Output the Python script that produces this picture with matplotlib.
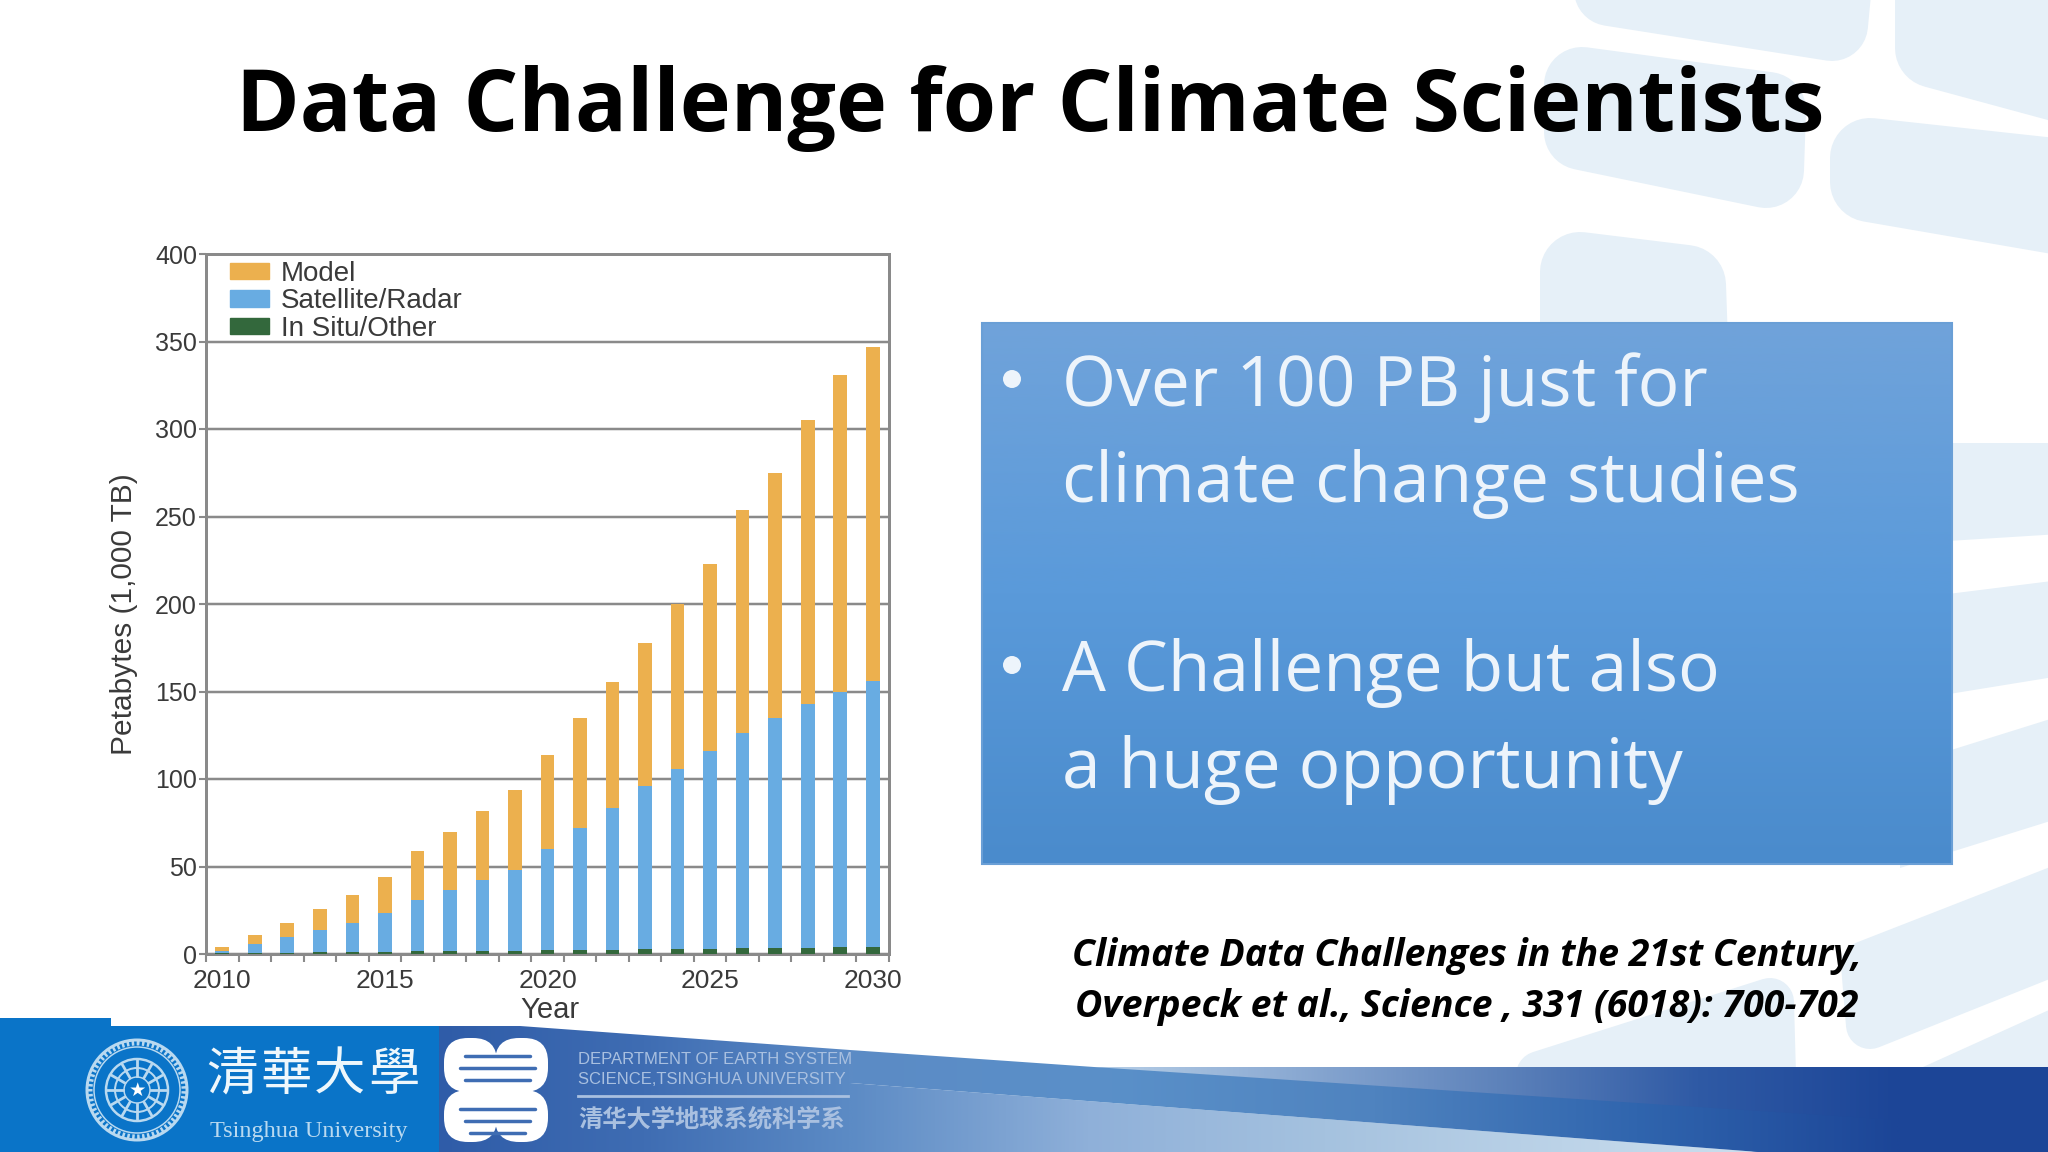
#!/usr/bin/python
# Filename: plot.py
import numpy as np
import matplotlib
matplotlib.use("Agg")
import matplotlib.pyplot as plt
from matplotlib.patches import Polygon, Rectangle, Circle, FancyBboxPatch, Patch
from matplotlib.colors import LinearSegmentedColormap

W, H = 2048, 1152

years = list(range(2010, 2031))
year_labels = ["2010", "2015", "2020", "2025", "2030"]
# top of each colour in the stack
insitu_top = [0.3, 0.5, 0.8, 1.0, 1.2, 1.4, 1.6, 1.8, 2.0, 2.0, 2.2, 2.4, 2.5, 2.7, 2.8, 3.0, 3.2, 3.3, 3.5, 3.8, 4.2]
satellite_top = [2, 5.5, 10, 14, 18, 23.5, 31, 36.5, 42.5, 48, 60, 72, 83.5, 96, 106, 116, 126.5, 135, 143, 150, 156]
model_top = [4, 11, 18, 26, 34, 44, 59, 70, 81.5, 94, 113.5, 135, 155.5, 178, 200, 223, 254, 275, 305, 331, 347]

LIGHT = "#e6f0f8"
WHITE_BLUE = "#b9d9f0"


def pt(px):
    return px * 0.72


def gradient(ax, x0, x1, y0, y1, stops, poly=None, vertical=False, z=1):
    # gradient rectangle, clipped to a polygon when one is given
    cmap = LinearSegmentedColormap.from_list("g", stops)
    g = np.linspace(0, 1, 512)
    g = g[:, None] if vertical else g[None, :]
    im = ax.imshow(g, cmap=cmap, extent=(x0, x1, y1, y0), aspect="auto", zorder=z, vmin=0, vmax=1)
    if poly is not None:
        p = Polygon(poly, closed=True, transform=ax.transData, fc="none", ec="none")
        ax.add_patch(p)
        im.set_clip_path(p)
    return im


def stroke(ax, pts, r=24):
    # light background stroke, corners rounded by a fat round edge
    ax.add_patch(Polygon(pts, closed=True, fc=LIGHT, ec=LIGHT, lw=pt(2 * r), joinstyle="round", zorder=0.5))


fig = plt.figure(figsize=(W / 100, H / 100), dpi=100, facecolor="white")
bg = fig.add_axes([0, 0, 1, 1])
bg.set_xlim(0, W)
bg.set_ylim(H, 0)
bg.axis("off")

# background strokes
stroke(bg, [(1625, -60), (1840, -60), (1832, 25), (1610, -10)], 36)
stroke(bg, [(1582, 85), (1768, 110), (1766, 170), (1582, 132)], 38)
stroke(bg, [(1580, 272), (1686, 285), (1690, 400), (1580, 400)], 40)
stroke(bg, [(1870, 158), (2090, 182), (2090, 220), (1870, 182)], 40)
stroke(bg, [(1935, -30), (2090, -5), (2090, 90), (1935, 48)], 40)
stroke(bg, [(1900, 443), (2060, 443), (2060, 534), (1900, 544)], 0)
stroke(bg, [(1900, 600), (2060, 580), (2060, 676), (1900, 702)], 0)
stroke(bg, [(1900, 766), (2060, 716), (2060, 818), (1900, 868)], 0)
stroke(bg, [(1865, 965), (2070, 885), (2070, 945), (1870, 1025)], 24)
stroke(bg, [(1540, 1075), (1770, 1002), (1772, 1075), (1540, 1075)], 24)
stroke(bg, [(1923, 1067), (2060, 1005), (2060, 1075), (1923, 1075)], 0)

# footer
bg.add_patch(Rectangle((0, 1018), 111, 12, fc="#0a74c8", ec="none", zorder=1))
bg.add_patch(Rectangle((0, 1026), 439, 126, fc="#0a74c8", ec="none", zorder=1))
gradient(bg, 439, 850, 1026, 1152, ["#2f5ca8", "#3f6db3", "#5c8bc5"],
         [(439, 1026), (520, 1026), (850, 1050), (850, 1152), (439, 1152)])
gradient(bg, 850, 1800, 1067, 1152, ["#5c8bc5", "#8fb0d9", "#a5c2df", "#bcd3e8", "#cfe0ee"],
         [(850, 1083), (1759, 1152), (850, 1152)], z=1.1)
gradient(bg, 1094, 1900, 1067, 1152, ["#b7cfe7", "#8aa9d2", "#5e83bb", "#2f5aa5", "#1c4597"],
         [(1094, 1067), (1900, 1067), (1900, 1152), (1759, 1152)], z=1.2)
bg.add_patch(Rectangle((1899, 1067), 149, 85, fc="#1c4597", ec="none", zorder=1.2))
gradient(bg, 850, 1900, 1050, 1152, ["#5c8bc5", "#5a90c9", "#4f83bf", "#3065ae", "#1c4597"],
         [(850, 1050), (1094, 1067), (1713, 1108), (1900, 1120), (1900, 1152), (1759, 1152), (850, 1083)], z=1.3)

# seal
for r, lw in [(50, 3), (43, 1.5), (31, 2.5), (22, 2), (13, 1.5)]:
    bg.add_patch(Circle((137, 1090), r, fc="none", ec=WHITE_BLUE, lw=pt(lw), zorder=2))
for a in np.arange(0, 360, 30):
    c, s = np.cos(np.radians(a)), np.sin(np.radians(a))
    bg.plot([137 + 14 * c, 137 + 30 * c], [1090 + 14 * s, 1090 + 30 * s], color=WHITE_BLUE, lw=2, zorder=2)
bg.text(137, 1090, "★", color="white", fontsize=14, ha="center", va="center", zorder=3)
bg.add_patch(Circle((137, 1090), 47, fc="none", ec=WHITE_BLUE, lw=pt(5), ls=(0, (0.5, 0.5)), zorder=2))

for x, ch in zip([232, 286, 340, 394], "清華大學"):
    bg.text(x, 1075, ch, color="#eef7fc", fontsize=37, family="Noto Sans CJK TC", weight="medium",
            ha="center", va="center", zorder=3)
bg.text(309, 1131, "Tsinghua University", color=WHITE_BLUE, fontsize=17.5, family="Liberation Serif",
        ha="center", va="center", zorder=3)

# department mark
for (x, y, w, h) in [(454, 1048, 33, 34), (505, 1048, 33, 34), (454, 1100, 33, 32), (505, 1100, 33, 32)]:
    bg.add_patch(FancyBboxPatch((x, y), w, h, boxstyle="round,pad=10,rounding_size=24", fc="white", ec="none", zorder=2))
bg.add_patch(Rectangle((470, 1074), 52, 34, fc="white", ec="none", zorder=2))
for y, x0, x1 in [(1056, 465, 530), (1068, 460, 535), (1080, 465, 530), (1109, 460, 535), (1121, 465, 530), (1133, 470, 525)]:
    bg.plot([x0, x1], [y, y], color="#3f6db3", lw=2.5, zorder=3, solid_capstyle="round")

DEPT = "#a9c0e0"
bg.text(578, 1060, "DEPARTMENT OF EARTH SYSTEM", color=DEPT, fontsize=12, family="Liberation Sans", va="center", zorder=3)
bg.text(578, 1079, "SCIENCE,TSINGHUA UNIVERSITY", color=DEPT, fontsize=12, family="Liberation Sans", va="center", zorder=3)
bg.plot([578, 848], [1096, 1096], color=DEPT, lw=2, zorder=3)
bg.text(578, 1119, "清华大学地球系统科学系", color=DEPT, fontsize=17.5, family="Noto Sans CJK SC", weight="bold", va="center", zorder=3)

# title
bg.text(1030, 131, "Data Challenge for Climate Scientists", color="black", fontsize=62, weight="bold",
        family="Open Sans", ha="center", va="baseline", zorder=3)

# text box
gradient(bg, 982, 1952, 323, 864, ["#70a3da", "#5a9ada", "#4a8bcc"], vertical=True, z=2)
bg.add_patch(Rectangle((982, 323), 970, 541, fc="none", ec="#6a9fd6", lw=1.5, zorder=2.5))
BODY = "#edf4fb"
for (y, s) in [(406, "Over 100 PB just for"), (502, "climate change studies"), (691, "A Challenge but also"), (788, "a huge opportunity")]:
    bg.text(1062, y, s, color=BODY, fontsize=50, family="Open Sans", va="baseline", zorder=3)
for y in [379, 665]:
    bg.add_patch(Circle((1012, y), 9, fc=BODY, ec="none", zorder=3))

# citation
bg.text(1467, 966, "Climate Data Challenges in the 21st Century,", color="black", fontsize=27, weight="bold", style="italic",
        family="Open Sans", ha="center", va="baseline", zorder=3)
bg.text(1467, 1017, "Overpeck et al., Science , 331 (6018): 700-702", color="black", fontsize=27, weight="bold", style="italic",
        family="Open Sans", ha="center", va="baseline", zorder=3)

# chart
ax = fig.add_axes([206 / W, 1 - 954 / H, (889 - 206) / W, (954 - 254) / H])
ax.patch.set_alpha(0)
GREY = "#8a8a8a"
TXT = "#3a3a3a"
x = np.arange(len(years))
insitu_top = np.array(insitu_top)
satellite_top = np.array(satellite_top)
model_top = np.array(model_top)
bw = 0.42
ax.bar(x, insitu_top, width=bw, color="#33683c", zorder=3)
ax.bar(x, satellite_top - insitu_top, bottom=insitu_top, width=bw, color="#68ace2", zorder=3)
ax.bar(x, model_top - satellite_top, bottom=satellite_top, width=bw, color="#ecb04e", zorder=3)
ax.set_xlim(-0.5, 20.5)
ax.set_ylim(0, 400)
ax.set_yticks(range(0, 401, 50))
ax.yaxis.grid(True, color=GREY, lw=pt(2.5), zorder=1)
ax.set_axisbelow(True)
ax.set_xticks(np.arange(0, 21, 5))
ax.set_xticklabels(year_labels)
ax.set_xticks(np.arange(-0.5, 21, 1), minor=True)
ax.tick_params(axis="x", which="major", length=0, pad=11, labelsize=19, labelcolor=TXT)
ax.tick_params(axis="x", which="minor", length=6, width=1.5, color=GREY)
ax.tick_params(axis="y", length=5, width=1.5, color=GREY, pad=1.5, labelsize=18, labelcolor=TXT)
for s in ax.spines.values():
    s.set_color(GREY)
    s.set_linewidth(pt(3))
for lab in ax.get_xticklabels() + ax.get_yticklabels():
    lab.set_family("Liberation Sans")
ax.set_xlabel("Year", fontsize=21, color=TXT, family="Liberation Sans", va="center")
ax.set_ylabel("Petabytes (1,000 TB)", fontsize=21.5, color=TXT, family="Liberation Sans", va="center")
ax.xaxis.set_label_coords(0.503, -0.08)
ax.yaxis.set_label_coords(-0.12, 0.485)
handles = [Patch(color="#ecb04e", label="Model"), Patch(color="#68ace2", label="Satellite/Radar"),
           Patch(color="#33683c", label="In Situ/Other")]
ax.legend(handles=handles, loc="upper left", frameon=False, prop={"family": "Liberation Sans", "size": 20},
          labelcolor=TXT, handlelength=1.42, handleheight=0.55, handletextpad=0.4, labelspacing=0.05,
          borderaxespad=0, borderpad=0.2, bbox_to_anchor=(0.027, 0.998))

fig.savefig("out.png", dpi=100)
